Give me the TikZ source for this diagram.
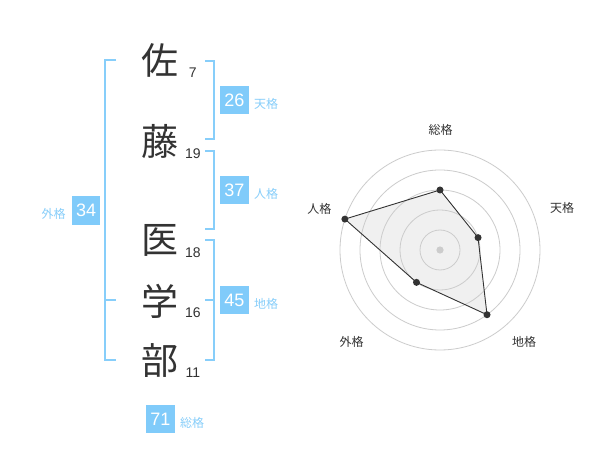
\documentclass[tikz,border=0pt]{standalone}
\usepackage{fontspec}
\setmainfont{Liberation Sans}
\newfontfamily\cjk{Noto Sans CJK JP}
\definecolor{kblue}{HTML}{87CEFA}
\definecolor{kbox}{HTML}{80CBFA}
\definecolor{ktext}{HTML}{333333}
\definecolor{kgrid}{HTML}{CCCCCC}
\definecolor{kfill}{HTML}{F0F0F0}
\begin{document}
\begin{tikzpicture}[x=1pt,y=-1pt,
  char/.style={font=\cjk\fontsize{37}{37}\selectfont, text=ktext, inner sep=0pt},
  strokes/.style={font=\fontsize{14}{14}\selectfont, text=ktext, inner sep=0pt, anchor=base},
  numbox/.style={fill=kbox, text=white, font=\fontsize{18}{18}\selectfont, minimum width=28.5pt, minimum height=28.5pt, inner sep=0pt},
  kaku/.style={text=kblue, font=\cjk\fontsize{12}{12}\selectfont, inner sep=0pt},
  brk/.style={draw=kblue, line width=2pt},
  rlabel/.style={text=ktext, font=\cjk\fontsize{12}{12}\selectfont, inner sep=0pt},
  gridc/.style={draw=kgrid, line width=0.8pt},
  dot/.style={circle, fill=ktext, inner sep=0pt, minimum size=7pt},
]
\fill[white] (0,0) rectangle (600,470);
\useasboundingbox (0,0) rectangle (600,470);

% characters
\node[char] (c1) at (160,60) {佐};
\node[char] (c2) at (160,141) {藤};
\node[char] (c3) at (160,240) {医};
\node[char] (c4) at (160,301) {学};
\node[char] (c5) at (160,361) {部};
% stroke counts
\node[strokes] (s1) at (192.8,77.3) {7};
\node[strokes] (s2) at (192.8,158.3) {19};
\node[strokes] (s3) at (192.8,257.7) {18};
\node[strokes] (s4) at (192.8,317.7) {16};
\node[strokes] (s5) at (192.8,377.7) {11};

% brackets
\draw[brk] (116,60) -- (105,60) -- (105,360) -- (116,360);
\draw[brk] (105,300) -- (116,300);
\draw[brk] (205,60.7) -- (214.3,60.7) -- (214.3,139.3) -- (205,139.3);
\draw[brk] (205,150.7) -- (214.3,150.7) -- (214.3,229.3) -- (205,229.3);
\draw[brk] (205,240) -- (214.3,240) -- (214.3,360) -- (205,360);
\draw[brk] (205,300) -- (214.3,300);

% boxes
\node[numbox] (ten) at (234.5,100) {26};
\node[kaku] (tenl) at (266,104.3) {天格};
\node[numbox] (jin) at (234.5,190) {37};
\node[kaku] (jinl) at (266,194.3) {人格};
\node[numbox] (chi) at (234.5,300) {45};
\node[kaku] (chil) at (266,304.3) {地格};
\node[numbox] (gai) at (86.2,210.5) {34};
\node[kaku] (gail) at (53.7,213.5) {外格};
\node[numbox] (sou) at (160.5,419) {71};
\node[kaku] (soul) at (192,422.5) {総格};

% radar
\begin{scope}[shift={(440,250)}]
  \coordinate (pS) at (-90:60);
  \coordinate (pT) at (-18:40);
  \coordinate (pC) at (54:80);
  \coordinate (pG) at (126:40);
  \coordinate (pJ) at (-162:100);
  \fill[kfill] (pS) -- (pT) -- (pC) -- (pG) -- (pJ) -- cycle;
  \foreach \r in {20,40,60,80,100} \draw[gridc] (0,0) circle[radius=\r];
  \fill[kgrid] (0,0) circle[radius=3.6];
  \draw[ktext, line width=0.9pt] (pS) -- (pT) -- (pC) -- (pG) -- (pJ) -- cycle;
  \foreach \p in {pS,pT,pC,pG,pJ} \node[dot] at (\p) {};
\end{scope}
\node[rlabel] (lS) at (440.7,130) {総格};
\node[rlabel] (lT) at (562,208) {天格};
\node[rlabel] (lC) at (524,342) {地格};
\node[rlabel] (lG) at (351.7,342) {外格};
\node[rlabel] (lJ) at (319.3,209) {人格};
\end{tikzpicture}
\end{document}
